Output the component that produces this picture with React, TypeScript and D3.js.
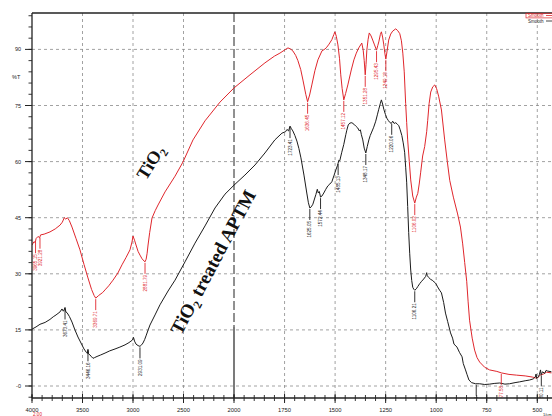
import React from "react";
import * as d3 from "d3";

// ---- data ----
const redW = [4000,3980,3968,3960,3940,3925,3915,3880,3822,3770,3723,3700,3680,3665,3650,3630,3604,3565,3525,3485,3446,3410,3385,3369,3340,3300,3277,3240,3198,3150,3109,3070,3030,3010,3000,2985,2970,2950,2931,2910,2890,2881,2870,2860,2851,2835,2812,2780,2752,2683,2584,2505,2406,2287,2139,2000,1921,1847,1800,1773,1745,1733,1720,1709,1695,1684,1670,1659,1645,1636,1626,1615,1600,1585,1565,1550,1541,1530,1516,1506,1501,1494,1486,1478,1472,1465,1457,1448,1437,1420,1407,1395,1383,1368,1361,1356,1351,1347,1343,1337,1331,1322,1314,1305,1295,1289,1284,1276,1271,1265,1259,1254,1249,1243,1235,1225,1215,1200,1190,1180,1172,1165,1158,1151,1146,1141,1133,1126,1116,1106,1098,1091,1084,1077,1067,1057,1047,1042,1035,1027,1017,1007,998,988,974,958,945,933,915,894,880,869,859,849,842,835,822,810,798,785,760,736,700,677,640,602,560,525,504,495,485,470,454,430];
const redV = [37.7,38.6,38.3,39.4,40.0,39.6,40.4,40.6,41.2,42.0,43.0,43.8,45.0,44.6,45.0,44.2,42.5,39.5,36.4,32.5,28.9,25.8,24.2,23.5,24.2,25.0,25.7,26.8,28.3,30.2,32.4,34.3,36.4,38.5,40.1,39.0,37.7,36.0,35.0,34.0,33.4,33.2,33.9,35.5,37.7,41.0,44.9,46.9,48.4,51.9,56.1,59.9,65.8,70.9,75.9,79.7,83.2,86.4,88.2,89.0,90.0,90.4,90.1,89.6,88.4,87.0,84.6,81.8,78.0,76.0,77.8,80.5,84.3,87.2,89.6,90.1,90.6,91.4,92.6,94.0,94.7,93.5,91.2,87.5,83.2,79.5,76.5,78.2,80.5,84.5,87.2,89.0,90.4,91.7,89.8,87.0,83.2,86.0,89.8,92.6,94.4,93.6,92.5,91.2,89.8,91.0,92.0,94.0,94.7,93.3,91.2,89.0,87.4,89.5,92.5,94.1,94.9,95.5,95.0,94.2,92.3,89.0,84.0,75.5,70.5,65.8,60.0,55.1,50.8,48.9,50.5,51.5,54.0,57.0,61.5,64.0,68.0,71.0,75.5,78.6,80.0,80.5,79.5,77.5,73.8,65.8,60.0,55.0,50.5,46.0,42.5,38.0,33.0,28.0,22.5,17.6,12.8,9.6,7.6,6.4,5.0,4.3,3.9,3.5,3.1,2.9,2.7,2.4,2.1,2.4,2.9,3.2,3.7,3.5];

const blackW = [4000,3960,3921,3870,3822,3790,3762,3723,3703,3690,3683,3673,3665,3653,3630,3604,3575,3545,3515,3485,3462,3452,3446,3440,3426,3410,3396,3380,3356,3320,3277,3230,3178,3130,3079,3040,3020,3005,2995,2985,2970,2950,2931,2915,2901,2885,2871,2850,2832,2782,2733,2653,2584,2485,2386,2287,2188,2089,2000,1946,1896,1847,1798,1763,1745,1738,1730,1723,1716,1709,1699,1689,1679,1669,1654,1640,1632,1625,1618,1610,1602,1595,1588,1583,1578,1572,1565,1556,1546,1536,1526,1516,1506,1496,1488,1485,1481,1477,1467,1457,1447,1442,1435,1427,1417,1407,1398,1388,1380,1375,1370,1363,1356,1348,1341,1333,1326,1319,1309,1299,1291,1284,1276,1271,1265,1259,1251,1244,1237,1230,1222,1215,1208,1200,1192,1185,1178,1170,1163,1156,1151,1146,1141,1136,1131,1126,1121,1116,1111,1106,1098,1091,1081,1072,1062,1052,1047,1044,1037,1027,1017,1010,1002,993,983,974,963,954,943,929,919,912,897,885,872,866,855,847,838,825,805,785,760,736,710,686,660,637,610,588,560,538,520,510,506,503,498,490,484,481,474,464,456,449,430];
const blackV = [15.2,15.8,16.5,17.0,17.8,18.5,19.0,19.8,20.6,20.0,20.3,21.0,19.8,19.6,18.6,17.1,15.0,13.1,11.5,9.9,9.0,8.7,9.8,8.6,8.3,7.8,7.4,7.6,7.9,8.3,8.8,9.4,9.9,10.4,11.0,11.6,12.0,12.3,13.0,12.0,11.2,10.8,10.6,11.0,11.5,12.4,13.4,15.0,16.3,19.0,21.7,25.4,28.3,33.2,38.2,42.8,47.6,51.3,53.7,56.4,59.1,62.3,65.8,67.6,68.0,68.6,68.2,69.5,68.8,68.2,67.0,65.5,63.5,61.0,56.4,51.6,49.0,47.6,47.9,48.6,50.0,51.2,52.6,51.6,52.0,50.5,50.8,51.6,52.6,53.5,54.0,54.6,56.2,57.8,59.0,59.6,60.4,60.2,62.5,64.6,67.2,68.4,69.8,70.3,70.4,70.0,69.5,69.0,68.2,68.5,67.2,65.8,63.6,62.3,64.0,65.8,67.0,67.9,69.2,70.8,72.5,74.0,75.6,76.5,75.4,74.0,72.6,71.6,71.0,70.5,70.2,70.8,70.2,70.4,70.0,69.6,68.5,67.0,65.0,62.5,58.5,54.5,48.0,41.0,35.5,31.0,28.2,26.4,25.9,25.6,26.0,26.6,27.4,28.0,28.6,29.3,30.3,29.5,29.0,28.5,28.2,27.8,27.4,26.5,25.6,24.9,22.3,19.5,17.2,14.2,12.8,11.2,10.4,9.0,7.8,6.0,4.3,3.0,1.6,0.9,0.6,0.6,0.4,0.5,0.7,0.8,0.5,0.6,0.9,1.1,1.4,1.6,1.9,2.4,3.2,2.0,2.2,3.0,4.3,3.0,3.8,3.4,4.2,4.0,3.8];

const xTickValues = [4000, 3500, 3000, 2500, 2000, 1750, 1500, 1250, 1000, 750, 500];
const xGridValues = [3500, 3000, 2500, 1750, 1500, 1250, 1000, 750, 500];
const yTickValues = [0, 15, 30, 45, 60, 75, 90];
const yTickLabels = ["-0", "15", "30", "45", "60", "75", "90"];

const redPeaks = [3965, 3921, 3369, 2881, 1636, 1457, 1351, 1295, 1249, 1106, 678];
const redPeakLabels = ["3965.15", "3921.28", "3369.71", "2881.79", "1636.45", "1457.12", "1351.28", "1295.43", "1249.18", "1106.02", "677.58"];
const blackPeaks = [3673, 3446, 2931, 1723, 1625, 1572, 1485, 1348, 1220, 1106, 802, 480];
const blackPeakLabels = ["3673.41", "3446.16", "2931.09", "1723.41", "1625.05", "1572.44", "1485.13", "1348.17", "1220.06", "1106.21", "802.69", "480.11"];

const RED = "#e0262c";
const BLACK = "#1b1b1b";

export default function App() {
  const W = 552, H = 416;
  const left = 32, top = 13, bottom = 398, right = 552;
  const x = d3.scaleLinear().domain([4000, 2000, 400]).range([32, 234, 557.5]);
  const y = d3.scaleLinear().domain([0, 90]).range([386, 49.4]);

  const redData = redW.map((w, i) => [w, redV[i]] as [number, number]);
  const blackData = blackW.map((w, i) => [w, blackV[i]] as [number, number]);
  const line = d3.line<[number, number]>().x(d => x(d[0])).y(d => y(d[1]));
  const redInterp = d3.scaleLinear().domain(redW).range(redV);
  const blackInterp = d3.scaleLinear().domain(blackW).range(blackV);

  const minorX: number[] = [];
  for (let w = 4000; w > 2000; w -= 100) minorX.push(w);
  for (let w = 2000; w >= 400; w -= 50) minorX.push(w);
  const minorY: number[] = [];
  for (let v = -3; v <= 99; v += 3) minorY.push(v);

  const marker = (w: number, v: number, label: string, color: string, key: string) => {
    const px = x(w), py = y(v);
    return (
      <g key={key}>
        <line x1={px} x2={px} y1={py + 1} y2={py + 12} stroke={color} strokeWidth={0.9} />
        <text transform={`translate(${px + 1.6},${py + 13}) rotate(-90)`} textAnchor="end" fontSize={4.6} fill={color} fontFamily="Liberation Sans, Arial, sans-serif">{label}</text>
      </g>
    );
  };

  return (
    <svg width={W} height={H} style={{ position: "absolute", left: 0, top: 0, background: "#fff" }}>
      <defs>
        <clipPath id="plot"><rect x={left} y={top} width={right - left} height={bottom - top} /></clipPath>
      </defs>
      {/* grid */}
      {xGridValues.map(v => (
        <line key={"gx" + v} x1={x(v)} x2={x(v)} y1={top} y2={bottom} stroke="#8a8a8a" strokeWidth={0.8} strokeDasharray="3,3" />
      ))}
      {yTickValues.map(v => (
        <line key={"gy" + v} x1={left} x2={right} y1={y(v)} y2={y(v)} stroke="#8a8a8a" strokeWidth={0.8} strokeDasharray="3,3" />
      ))}
      {/* 2000 split line */}
      <line x1={x(2000)} x2={x(2000)} y1={top} y2={327} stroke="#222" strokeWidth={1} strokeDasharray="9,3" />
      <line x1={x(2000)} x2={x(2000)} y1={327} y2={bottom} stroke="#222" strokeWidth={1.2} />
      {/* curves */}
      <g clipPath="url(#plot)">
        <path d={line(redData) || ""} fill="none" stroke={RED} strokeWidth={1} />
        <path d={line(blackData) || ""} fill="none" stroke={BLACK} strokeWidth={1} />
        {redPeaks.map((w, i) => marker(w, redInterp(w), redPeakLabels[i], RED, "rp" + i))}
        {blackPeaks.map((w, i) => marker(w, blackInterp(w), blackPeakLabels[i], BLACK, "bp" + i))}
      </g>
      {/* frame */}
      <line x1={left} x2={right} y1={top} y2={top} stroke="#222" strokeWidth={1.3} />
      <line x1={left} x2={left} y1={top} y2={bottom} stroke="#222" strokeWidth={1.3} />
      <line x1={left} x2={right} y1={bottom} y2={bottom} stroke="#222" strokeWidth={1.3} />
      {/* y ticks */}
      {minorY.map(v => (
        <line key={"my" + v} x1={left - 3.5} x2={left} y1={y(v)} y2={y(v)} stroke="#222" strokeWidth={0.9} />
      ))}
      {yTickValues.map((v, i) => (
        <g key={"ty" + v}>
          <line x1={left - 7} x2={left} y1={y(v)} y2={y(v)} stroke="#222" strokeWidth={1} />
          <text x={21} y={y(v) + 2} textAnchor="end" fontSize={5.5} fill="#222" fontFamily="Liberation Sans, Arial, sans-serif">{yTickLabels[i]}</text>
        </g>
      ))}
      <text x={12} y={79} fontSize={5.5} fill="#222" fontFamily="Liberation Sans, Arial, sans-serif">%T</text>
      {/* x ticks */}
      {minorX.map(w => (
        <line key={"mx" + w} x1={x(w)} x2={x(w)} y1={bottom - 3} y2={bottom + 3} stroke="#222" strokeWidth={0.9} />
      ))}
      {xTickValues.map(w => (
        <g key={"tx" + w}>
          <line x1={x(w)} x2={x(w)} y1={bottom - 4} y2={bottom + 5} stroke="#222" strokeWidth={1} />
          <text x={x(w)} y={412} textAnchor="middle" fontSize={5.8} fill="#222" fontFamily="Liberation Sans, Arial, sans-serif">{w}</text>
        </g>
      ))}
      <text x={33} y={415.5} fontSize={4.6} fill={RED} fontFamily="Liberation Sans, Arial, sans-serif">2.00</text>
      <text x={543} y={415.5} fontSize={4} fill="#222" fontFamily="Liberation Sans, Arial, sans-serif">1/cm</text>
      {/* legend */}
      <rect x={526} y={13.3} width={30} height={4.6} fill="none" stroke={RED} strokeWidth={0.7} />
      <text x={528} y={17.3} fontSize={4.5} fill={RED} fontFamily="Liberation Sans, Arial, sans-serif">Smooth</text>
      <line x1={546} x2={552} y1={15.5} y2={15.5} stroke={RED} strokeWidth={0.8} />
      <text x={528} y={22.8} fontSize={4.5} fill={BLACK} fontFamily="Liberation Sans, Arial, sans-serif">Smooth</text>
      <line x1={546} x2={552} y1={21} y2={21} stroke={BLACK} strokeWidth={0.8} />
      {/* annotations */}
      <text transform="translate(146,181) rotate(-58)" fontSize={18} fontWeight="bold" fill="#111" fontFamily="Liberation Serif, Times New Roman, serif">
        TiO<tspan fontSize={11.5} dy={4}>2</tspan>
      </text>
      <text transform="translate(181,336) rotate(-62)" fontSize={19} fontWeight="bold" fill="#111" fontFamily="Liberation Serif, Times New Roman, serif">
        TiO<tspan fontSize={12} dy={4}>2</tspan><tspan dy={-4}> treated APTM</tspan>
      </text>
    </svg>
  );
}
